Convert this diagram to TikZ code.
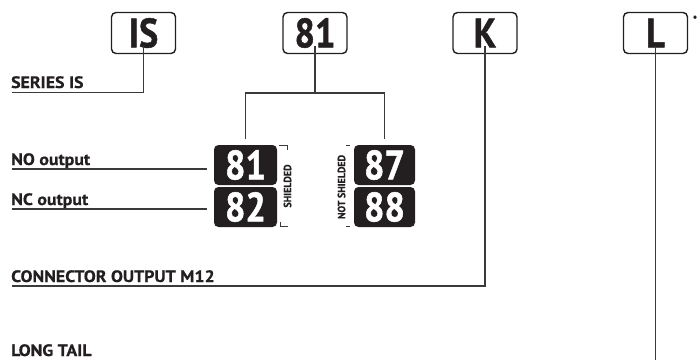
\documentclass[tikz,border=0pt]{standalone}
\usepackage{fontspec}
\setmainfont{PT Sans}[BoldFeatures={FakeStretch=1.08,FakeBold=0.6}]
\newfontfamily\digitfont{PT Sans}[BoldFeatures={FakeStretch=0.88,FakeBold=1.2}]
\newfontfamily\sidefont{PT Sans}[BoldFeatures={FakeStretch=0.95,FakeBold=0.5}]
\definecolor{ink}{HTML}{231F20}
\definecolor{wire}{HTML}{3A3A3A}
\begin{document}
\begin{tikzpicture}[x=1pt,y=-1pt,
  codebox/.style={draw=ink,line width=1.4pt,rounded corners=4.5pt,minimum width=64pt,minimum height=41pt,inner sep=0pt,font=\digitfont\bfseries\fontsize{41}{41}\selectfont,text=ink},
  blackbox/.style={fill=ink,rounded corners=4.5pt,minimum height=40pt,inner sep=0pt,font=\digitfont\bfseries\fontsize{41}{41}\selectfont,text=white},
  lbl/.style={anchor=base west,inner sep=0pt,font=\bfseries\fontsize{16.5}{17}\selectfont,text=ink},
  side/.style={rotate=90,inner sep=0pt,font=\sidefont\bfseries\fontsize{10.5}{10.5}\selectfont,text=ink},
  wireline/.style={draw=wire,line width=1.1pt},
  tick/.style={draw=wire,line width=0.8pt}]
\useasboundingbox (0,0) rectangle (699,360);
% top code boxes
\node[codebox] (is) at (143.5,33) {IS};
\node[codebox] (c81) at (315,33) {81};
\node[codebox] (k) at (485,33) {K};
\node[codebox] (l) at (655.5,33) {L};
\node[anchor=north,inner sep=0pt,font=\bfseries\fontsize{10}{10}\selectfont,text=ink] (ast) at (695,15.5) {*};
% black boxes
\node[blackbox,minimum width=63pt] (b81) at (245.5,165) {81};
\node[blackbox,minimum width=63pt] (b82) at (245.5,207) {82};
\node[blackbox,minimum width=61pt] (b87) at (384.5,165) {87};
\node[blackbox,minimum width=61pt] (b88) at (384.5,207) {88};
% labels
\node[lbl] (series) at (11,88) {SERIES IS};
\node[lbl] (noout) at (11,165) {NO output};
\node[lbl] (ncout) at (11,205) {NC output};
\node[lbl] (conn) at (11,282) {CONNECTOR OUTPUT M12};
\node[lbl] (tail) at (11,356) {LONG TAIL};
\node[side] (shield) at (287.5,186) {SHIELDED};
\node[side] (notshield) at (341.5,187) {NOT SHIELDED};
% coordinates
\coordinate (seriesend) at (12,92.5);
\coordinate (isbend) at (is.south |- seriesend);
\coordinate (noend) at (12,169);
\coordinate (nostop) at (207,169);
\coordinate (ncend) at (12,209);
\coordinate (ncstop) at (207,209);
\coordinate (connend) at (12,286);
\coordinate (kbend) at (k.south |- connend);
\coordinate (lend) at (655.5,360);
\coordinate (split) at (315,93);
\coordinate (leftdrop) at (245.5,139);
\coordinate (rightdrop) at (384.5,139);
% wires
\draw[wireline] ([yshift=8pt]is.south) -- (isbend) -- (seriesend);
\draw[wireline] ([yshift=8pt]c81.south) -- (split);
\draw[wireline] (leftdrop) -- (leftdrop |- split) -- (rightdrop |- split) -- (rightdrop);
\draw[wireline] (noend) -- (nostop);
\draw[wireline] (ncend) -- (ncstop);
\draw[wireline] ([yshift=8pt]k.south) -- (kbend) -- (connend);
\draw[wireline] ([yshift=8pt]l.south) -- (lend);
% bracket ticks
\coordinate (st1) at (278.5,145.5);
\coordinate (st2) at (287.5,145.5);
\coordinate (st3) at (287.5,150);
\draw[tick] (st1) -- (st2) -- (st3);
\coordinate (sb1) at (280,222);
\coordinate (sb2) at (280,226.5);
\coordinate (sb3) at (287.5,226.5);
\draw[tick] (sb1) -- (sb2) -- (sb3);
\coordinate (nt1) at (346,145.5);
\coordinate (nt2) at (349.5,145.5);
\draw[tick] (nt1) -- (nt2);
\coordinate (nb1) at (346,226.5);
\coordinate (nb2) at (349.5,226.5);
\draw[tick] (nb1) -- (nb2);
\end{tikzpicture}
\end{document}
